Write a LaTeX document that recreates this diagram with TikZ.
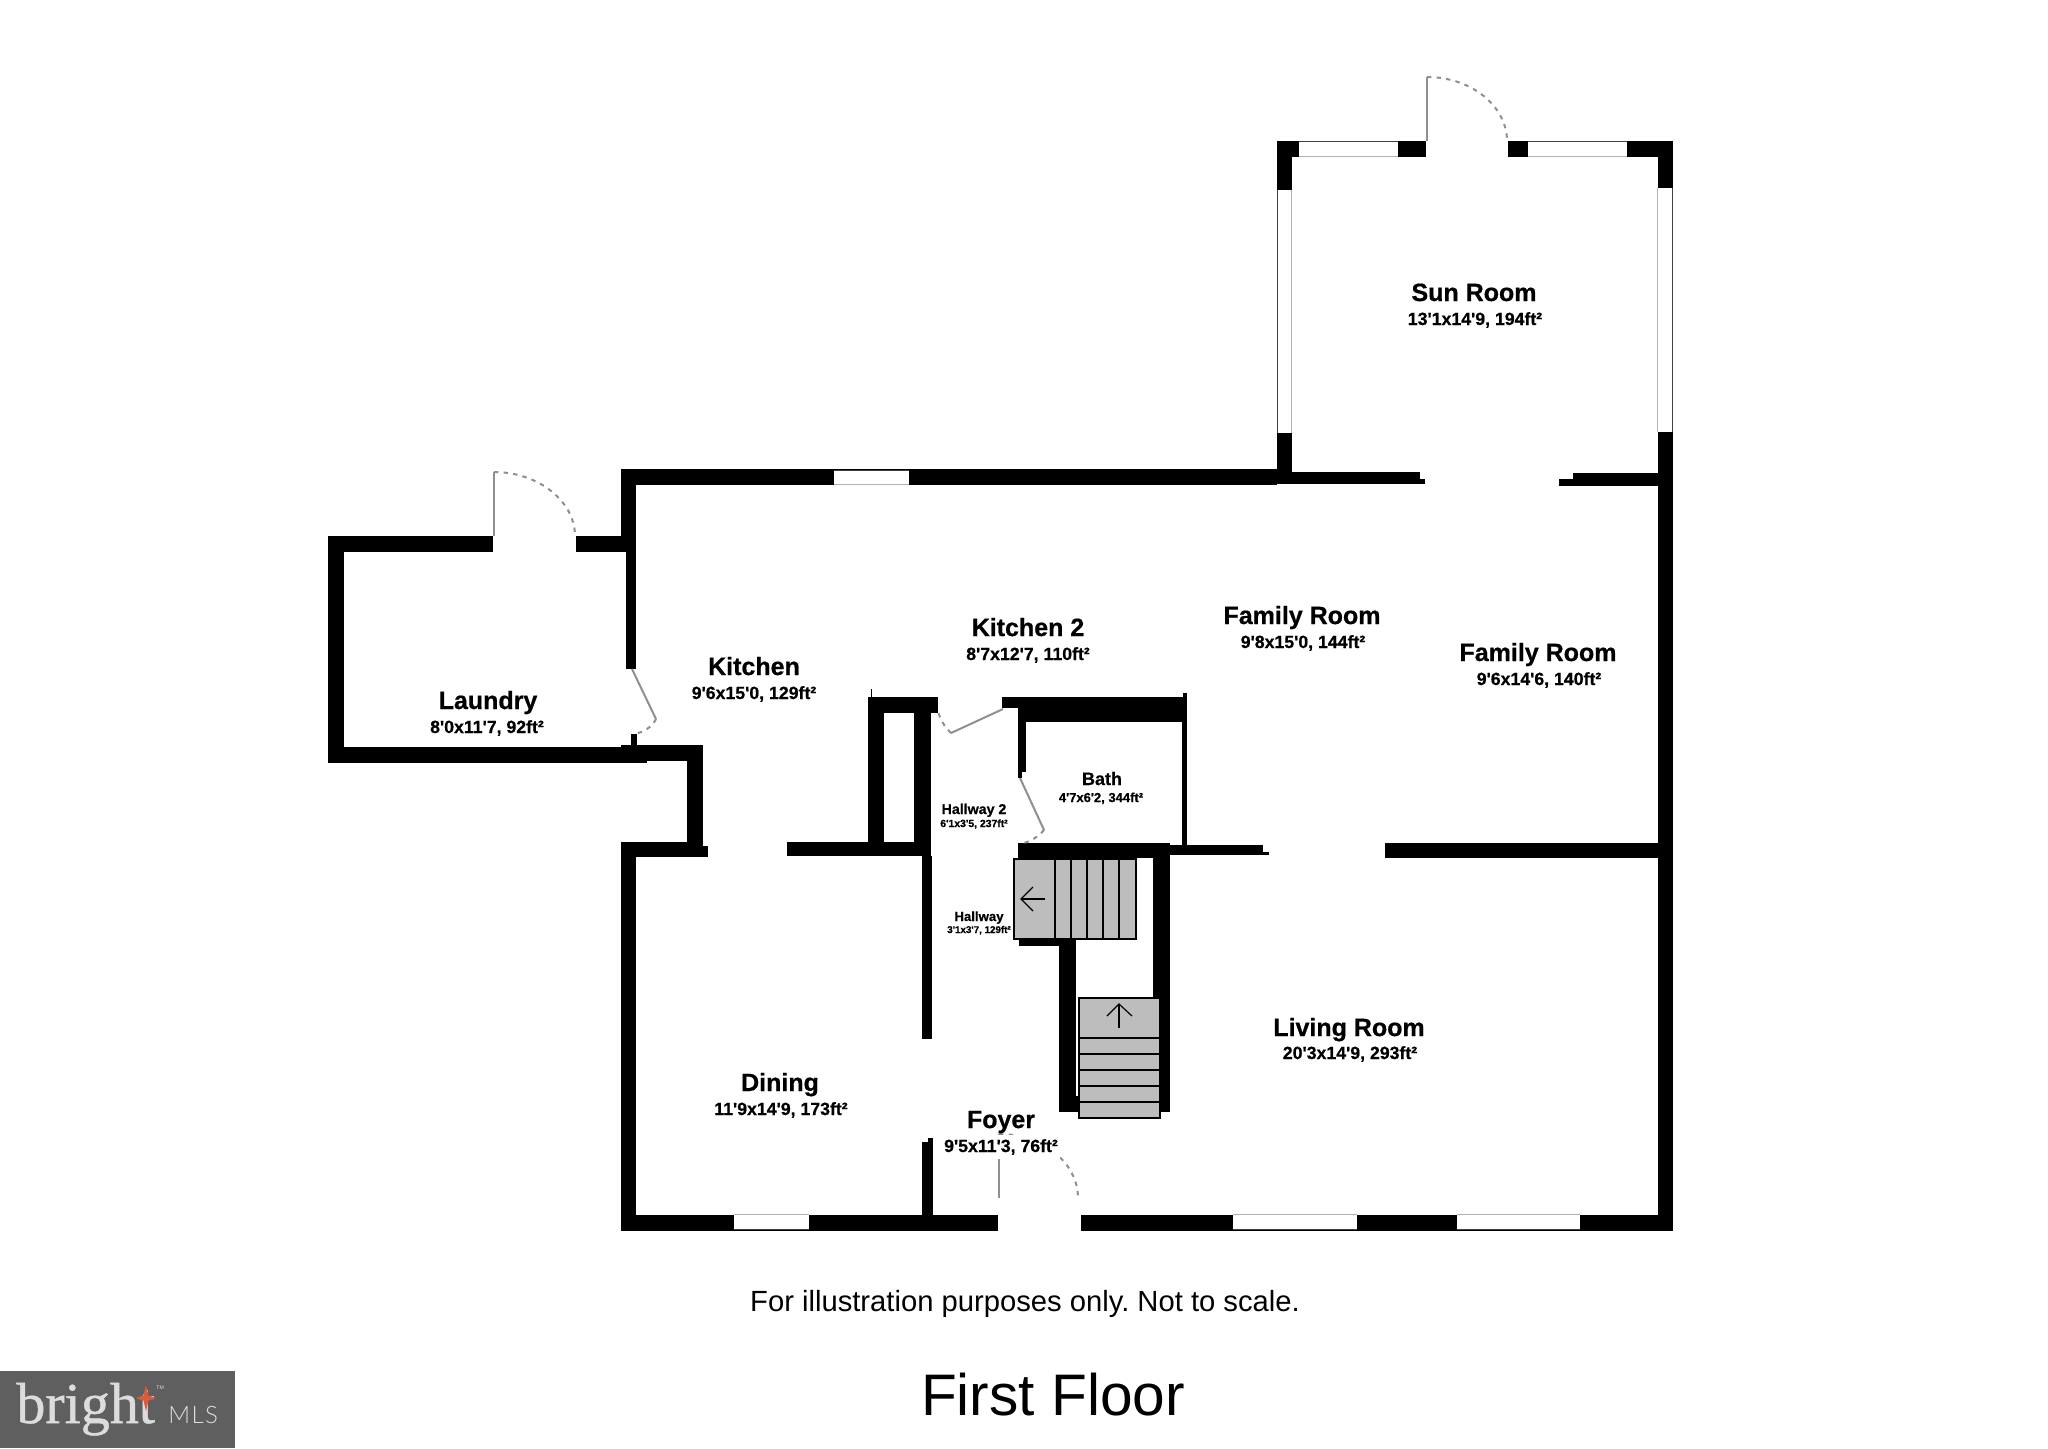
\documentclass[tikz,border=0pt]{standalone}
\usepackage{fontspec}
\newfontfamily\lab{Liberation Sans}[BoldFeatures={FakeBold=0.6}]
\newfontfamily\logoserif{Liberation Serif}[FakeBold=0.8]
\newfontfamily\logosans{Lato Light}[LetterSpace=6]
\tikzset{
  wall/.style={fill=black},
  winedge/.style={line width=0.5pt,draw=black!75},
  wininner/.style={line width=0.5pt,draw=black!30},
  leaf/.style={draw=leafgray,line width=1pt},
  swing/.style={draw=leafgray,line width=1pt,dash pattern=on 2.2pt off 2.6pt},
  tread/.style={fill=stairgray,draw=black,line width=0.7pt},
  treadline/.style={draw=black,line width=0.8pt},
  stairarrow/.style={draw=black,line width=0.6pt},
  roomname/.style={anchor=base,inner sep=0pt,font=\lab\bfseries\fontsize{12.5}{14}\selectfont},
  roomsize/.style={anchor=base,inner sep=0pt,font=\lab\bfseries\fontsize{8.85}{10}\selectfont},
}
\definecolor{leafgray}{HTML}{8C9094}
\definecolor{stairgray}{HTML}{BDBDBD}
\definecolor{logobg}{HTML}{5F5F5F}
\definecolor{logotext}{HTML}{DCDCDC}
\definecolor{logostar}{HTML}{DF5A3C}
\begin{document}
\frenchspacing
\begin{tikzpicture}[x=0.5pt,y=-0.5pt]
\useasboundingbox (0,0) rectangle (2048,1448);
\fill[white] (0,0) rectangle (2048,1448);
% --- Sun room
\fill[wall] (1277,141) rectangle (1426,157);
\fill[wall] (1508,141) rectangle (1673,157);
\fill[wall] (1277,141) rectangle (1292,472);
\fill[wall] (1658,141) rectangle (1673,1231);
\fill[wall] (621,469) rectangle (1277,485);
\fill[wall] (1277,472) rectangle (1420,484);
\fill[wall] (1420,479) rectangle (1425,484);
\fill[wall] (1573,473) rectangle (1658,486);
\fill[wall] (1559,479) rectangle (1573,486);
% sun room windows
\fill[white] (1299,141) rectangle (1398,157);
\draw[winedge] (1299,141.5) -- (1398,141.5);
\draw[wininner] (1299,156.5) -- (1398,156.5);
\fill[white] (1528,141) rectangle (1627,157);
\draw[winedge] (1528,141.5) -- (1627,141.5);
\draw[wininner] (1528,156.5) -- (1627,156.5);
\fill[white] (1277,190) rectangle (1292,433);
\draw[winedge] (1277.5,190) -- (1277.5,433);
\draw[wininner] (1291.5,190) -- (1291.5,433);
\fill[white] (1658,188) rectangle (1673,432);
\draw[winedge] (1672.5,188) -- (1672.5,432);
\draw[wininner] (1657.5,188) -- (1657.5,432);
% --- Laundry
\fill[wall] (328,536) rectangle (493,552);
\fill[wall] (576,536) rectangle (627,552);
\fill[wall] (328,536) rectangle (344,763);
\fill[wall] (328,747) rectangle (647,763);
\fill[wall] (621,745) rectangle (703,761);
\fill[wall] (687,745) rectangle (703,842);
\fill[wall] (621,469) rectangle (636,536);
\fill[wall] (626,536) rectangle (636,669);
\fill[wall] (631,734) rectangle (637,747);
% --- Kitchen / dining
\fill[wall] (621,842) rectangle (703,857);
\fill[wall] (703,846) rectangle (708,857);
\fill[wall] (621,842) rectangle (636,1231);
\fill[wall] (787,842) rectangle (931,856);
\fill[wall] (922,856) rectangle (932,1039);
\fill[wall] (922,1142) rectangle (933,1215);
\fill[wall] (928,1138) rectangle (933,1142);
% pillar
\fill[wall] (868,697) rectangle (938,713);
\fill[wall] (868,697) rectangle (884,842);
\fill[wall] (914,697) rectangle (931,856);
\draw[black,line width=0.4pt] (871,689) -- (871,697);
% --- Bath
\fill[wall] (1002,697) rectangle (1185,708);
\fill[wall] (1018,697) rectangle (1185,722);
\fill[wall] (1182,697) rectangle (1187,845);
\fill[wall] (1183,693) rectangle (1187,697);
\fill[wall] (1018,708) rectangle (1026,772);
\fill[wall] (1018,772) rectangle (1022,778);
\fill[wall] (1018,843) rectangle (1170,858);
\fill[wall] (1170,845) rectangle (1263,855);
\fill[wall] (1263,852) rectangle (1269,855);
\fill[wall] (1385,843) rectangle (1658,858);
% --- Stair walls
\fill[wall] (1019,939) rectangle (1075,946);
\fill[wall] (1059,939) rectangle (1076,1112);
\fill[wall] (1076,1096) rectangle (1080,1112);
\fill[wall] (1153,858) rectangle (1170,1112);
% --- Bottom wall
\fill[wall] (621,1215) rectangle (998,1231);
\fill[wall] (1081,1215) rectangle (1673,1231);
\fill[white] (734,1214) rectangle (809,1230);
\draw[wininner] (734,1214.5) -- (809,1214.5);
\draw[winedge] (734,1229.5) -- (809,1229.5);
\fill[white] (1233,1214) rectangle (1357,1230);
\draw[wininner] (1233,1214.5) -- (1357,1214.5);
\draw[winedge] (1233,1229.5) -- (1357,1229.5);
\fill[white] (1457,1214) rectangle (1580,1230);
\draw[wininner] (1457,1214.5) -- (1580,1214.5);
\draw[winedge] (1457,1229.5) -- (1580,1229.5);
% top window
\fill[white] (834,470) rectangle (909,485);
\draw[winedge] (834,470) -- (909,470);
\draw[wininner] (834,484.5) -- (909,484.5);
% --- Stairs
\draw[tread] (1014,859) rectangle (1136,939);
\foreach \sx in {1055,1071,1087,1103,1119} \draw[treadline] (\sx,859) -- (\sx,939);
\draw[stairarrow] (1045,899) -- (1021,899);
\draw[stairarrow] (1033,887) -- (1021,899) -- (1033,911);
\draw[tread] (1079,998) rectangle (1160,1118);
\foreach \sy in {1038,1054,1070,1086,1102} \draw[treadline] (1079,\sy) -- (1160,\sy);
\draw[stairarrow] (1119,1028) -- (1119,1004);
\draw[stairarrow] (1107,1016) -- (1119,1004) -- (1132,1016);
% --- Doors
\draw[leaf] (1427,141) -- (1427,77);
\draw[swing] (1427,77) .. controls (1471,77) and (1507,106) .. (1507,141);
\draw[leaf] (494,536) -- (494,472);
\draw[swing] (494,472) .. controls (538,472) and (575,501) .. (575,536);
\draw[leaf] (632,669) -- (656,719);
\draw[swing] (656,719) .. controls (652,727) and (643,733) .. (633,734);
\draw[leaf] (1003,709) -- (951,733);
\draw[swing] (951,733) .. controls (945,727) and (940,720) .. (938,711);
\draw[leaf] (1020,778) -- (1044,830);
\draw[swing] (1044,830) .. controls (1038,837) and (1030,842) .. (1020,844);
\draw[leaf] (999,1198) -- (999,1134);
\draw[swing] (999,1134) .. controls (1043,1134) and (1078,1163) .. (1078,1198);
% --- Labels
\node[roomname] (sunname) at (1474,301) {Sun Room};
\node[roomsize] (sunsize) at (1475,325) {13'1x14'9, 194ft²};
\node[roomname] (laundryname) at (488,709) {Laundry};
\node[roomsize] (laundrysize) at (487,733) {8'0x11'7, 92ft²};
\node[roomname] (kitchenname) at (754,675) {Kitchen};
\node[roomsize] (kitchensize) at (754,699) {9'6x15'0, 129ft²};
\node[roomname] (kitchentwoname) at (1028,636) {Kitchen 2};
\node[roomsize] (kitchentwosize) at (1028,660) {8'7x12'7, 110ft²};
\node[roomname] (familyaname) at (1302,624) {Family Room};
\node[roomsize] (familyasize) at (1303,648) {9'8x15'0, 144ft²};
\node[roomname] (familybname) at (1538,661) {Family Room};
\node[roomsize] (familybsize) at (1539,685) {9'6x14'6, 140ft²};
\node[roomname] (livingname) at (1349,1036) {Living Room};
\node[roomsize] (livingsize) at (1350,1059) {20'3x14'9, 293ft²};
\node[roomname] (diningname) at (780,1091) {Dining};
\node[roomsize] (diningsize) at (781,1115) {11'9x14'9, 173ft²};
\node[roomname] (foyername) at (1001,1128) {Foyer};
\node[roomsize,fill=white,inner ysep=2pt,inner xsep=1pt] (foyersize) at (1001,1152) {9'5x11'3, 76ft²};
\node[anchor=base,inner sep=0pt,font=\lab\bfseries\fontsize{9}{10}\selectfont] (bathname) at (1102,785) {Bath};
\node[anchor=base,inner sep=0pt,font=\lab\bfseries\fontsize{6.5}{7}\selectfont] (bathsize) at (1101,802) {4'7x6'2, 344ft²};
\node[anchor=base,inner sep=0pt,font=\lab\bfseries\fontsize{7.1}{8}\selectfont] (halltwoname) at (974,814) {Hallway 2};
\node[anchor=base,inner sep=0pt,font=\lab\bfseries\fontsize{5.2}{6}\selectfont] (halltwosize) at (974,827) {6'1x3'5, 237ft²};
\node[anchor=base,inner sep=0pt,font=\lab\bfseries\fontsize{6.6}{7}\selectfont] (hallname) at (979,921) {Hallway};
\node[anchor=base,inner sep=0pt,font=\lab\bfseries\fontsize{4.9}{6}\selectfont] (hallsize) at (979,933) {3'1x3'7, 129ft²};
\node[anchor=base,inner sep=0pt,font=\lab\fontsize{14.6}{16}\selectfont] (note) at (1025,1311) {For illustration purposes only. Not to scale.};
\node[anchor=base,inner sep=0pt,font=\lab\fontsize{29.3}{32}\selectfont] (floortitle) at (1053,1415) {First Floor};
% --- Logo
\fill[logobg] (0,1371) rectangle (235,1448);
\node[anchor=base west,inner sep=0pt,text=logotext,font=\logoserif\fontsize{29}{32}\selectfont] (brightword) at (16,1423) {bright};
\fill[logostar] (146,1385) -- (148.5,1395.5) -- (156,1398) -- (148.5,1400.5) -- (146,1411) -- (143.5,1400.5) -- (136,1398) -- (143.5,1395.5) -- cycle;
\node[anchor=base west,inner sep=0pt,text=logotext,font=\lab\fontsize{2.6}{3}\selectfont] (tmmark) at (156,1389) {TM};
\node[anchor=base west,inner sep=0pt,text=logotext,font=\logosans\fontsize{12}{13}\selectfont] (mlsword) at (168,1423) {MLS};
\end{tikzpicture}
\end{document}
